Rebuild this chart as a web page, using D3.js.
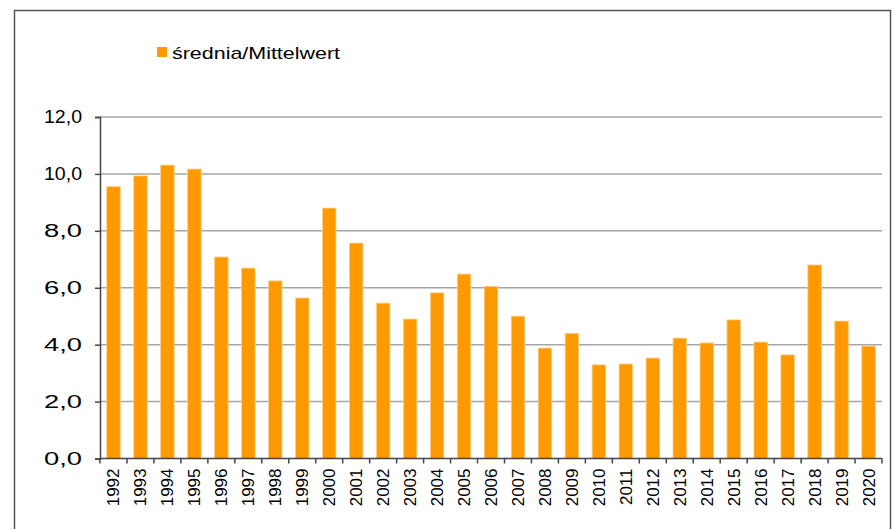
<!DOCTYPE html>
<html>
<head>
<meta charset="utf-8">
<script src="https://cdn.jsdelivr.net/npm/d3@7"></script>
<style>
  body { margin: 0; background: #fff; }
  svg text { font-family: "Liberation Sans", Arial, sans-serif; fill: #000; }
</style>
</head>
<body>
<div id="chart"></div>
<script>
const years = ['1992', '1993', '1994', '1995', '1996', '1997', '1998', '1999', '2000', '2001',
  '2002', '2003', '2004', '2005', '2006', '2007', '2008', '2009', '2010', '2011',
  '2012', '2013', '2014', '2015', '2016', '2017', '2018', '2019', '2020'];
const srednia = [9.55, 9.93, 10.31, 10.17, 7.08, 6.69, 6.24, 5.64, 8.8, 7.57,
  5.46, 4.9, 5.82, 6.48, 6.05, 5.0, 3.88, 4.4, 3.29, 3.32,
  3.53, 4.23, 4.06, 4.87, 4.09, 3.64, 6.8, 4.83, 3.95];
const yTicks = [0, 2, 4, 6, 8, 10, 12];
const seriesName = 'średnia/Mittelwert';

const width = 894, height = 529;
const margin = { left: 100, right: 12, top: 117, bottom: 70.5 };
const innerW = 882 - margin.left;
const innerH = 458.5 - margin.top;

const svg = d3.select('#chart')
  .append('svg')
  .attr('width', width)
  .attr('height', height);

// frame around the chart
svg.append('rect')
  .attr('x', 14.5)
  .attr('y', 10.5)
  .attr('width', 876)
  .attr('height', 540)
  .attr('fill', 'none')
  .attr('stroke', '#555')
  .attr('stroke-width', 1.5);

const g = svg.append('g')
  .attr('transform', 'translate(' + margin.left + ',' + margin.top + ')');

const x = d3.scaleBand().domain(years).range([0, innerW]).paddingInner(0.5).paddingOuter(0.25);
const y = d3.scaleLinear().domain([0, 12]).range([innerH, 0]);

// grid
g.selectAll('.grid')
  .data(yTicks.filter(d => d > 0))
  .enter()
  .append('line')
  .attr('x1', 0)
  .attr('x2', innerW)
  .attr('y1', d => y(d))
  .attr('y2', d => y(d))
  .attr('stroke', '#a6a6a6')
  .attr('stroke-width', 1.5);

// bars
g.selectAll('.bar')
  .data(srednia)
  .enter()
  .append('rect')
  .attr('x', (d, i) => x(years[i]))
  .attr('y', d => y(d))
  .attr('width', x.bandwidth())
  .attr('height', d => innerH - y(d))
  .attr('fill', '#ff9900')
  .attr('stroke', '#ffcf85')
  .attr('stroke-width', 0.8);

// y axis
const yAxis = d3.axisLeft(y)
  .tickValues(yTicks)
  .tickSize(5)
  .tickPadding(13)
  .tickFormat(d => d3.format('.1f')(d).replace('.', ','));
g.append('g')
  .call(yAxis)
  .call(a => a.select('.domain').attr('stroke', '#444').attr('stroke-width', 1.5))
  .call(a => a.selectAll('.tick line').attr('stroke', '#444').attr('stroke-width', 1.5))
  .call(a => a.selectAll('.tick text')
    .attr('font-size', 17.5)
    .attr('textLength', 38)
    .attr('lengthAdjust', 'spacingAndGlyphs')
    .attr('font-family', '"Liberation Sans", Arial, sans-serif'));

// x axis
const step = x.step();
const boundaries = d3.range(years.length + 1).map(i => i * step);
g.append('line')
  .attr('x1', 0).attr('x2', innerW)
  .attr('y1', innerH).attr('y2', innerH)
  .attr('stroke', '#444').attr('stroke-width', 1.5);
g.selectAll('.xtick')
  .data(boundaries)
  .enter()
  .append('line')
  .attr('x1', d => d).attr('x2', d => d)
  .attr('y1', innerH).attr('y2', innerH + 5)
  .attr('stroke', '#444').attr('stroke-width', 1.5);
g.selectAll('.xlabel')
  .data(years)
  .enter()
  .append('text')
  .attr('transform', d => 'translate(' + (x(d) + x.bandwidth() / 2 + 6) + ',' + (innerH + 10) + ') rotate(-90)')
  .attr('text-anchor', 'end')
  .attr('font-size', 17)
  .text(d => d);

// legend
svg.append('rect')
  .attr('x', 157).attr('y', 47)
  .attr('width', 10).attr('height', 10)
  .attr('fill', '#ff9900');
svg.append('text')
  .attr('x', 172).attr('y', 58.5)
  .attr('font-size', 17)
  .attr('textLength', 168)
  .attr('lengthAdjust', 'spacingAndGlyphs')
  .text(seriesName);
</script>
</body>
</html>
